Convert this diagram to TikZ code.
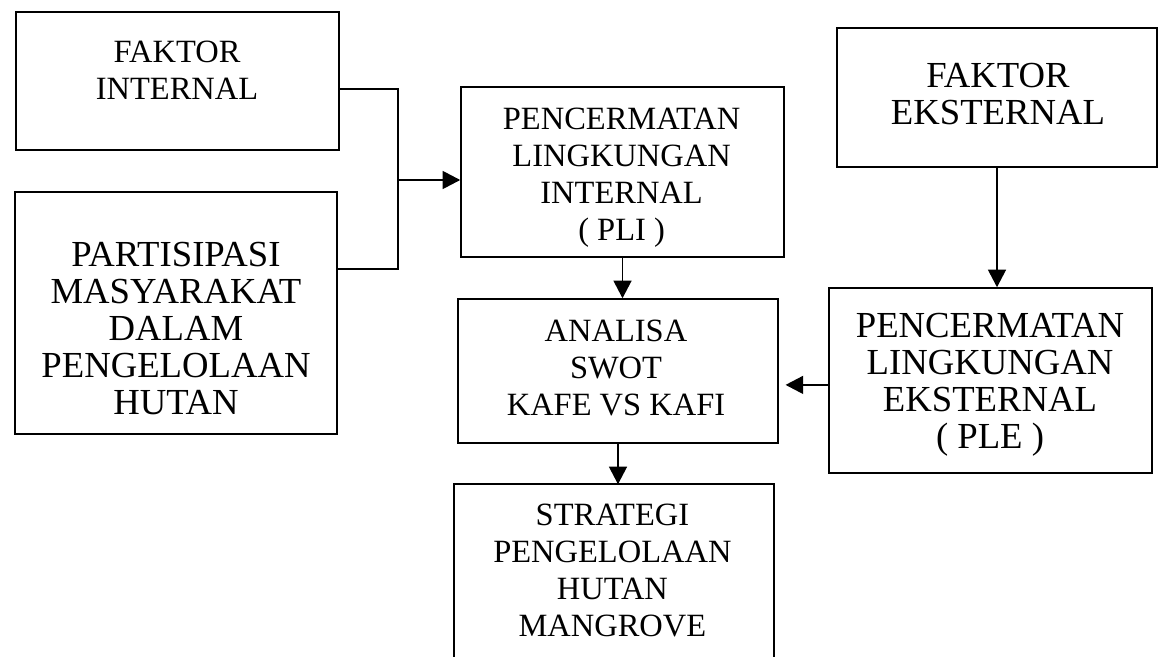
\documentclass[tikz,border=0pt]{standalone}
\usepackage{fontspec}
\setmainfont{Liberation Serif}
\usepackage{tikz}
\usetikzlibrary{calc, arrows.meta, positioning}

\tikzset{
    kotak/.style={draw, line width=1.1pt, rectangle, inner sep=0pt},
    teks/.style={align=center, inner sep=0pt, font=\fontsize{23.1}{26.3}\selectfont},
    teksbesar/.style={align=center, inner sep=0pt, font=\fontsize{26.1}{26.4}\selectfont},
    garis/.style={line width=1.1pt}
}

\begin{document}
\begin{tikzpicture}[>={Triangle[length=4.4mm, width=4.5mm]}]

    \useasboundingbox (0,0) rectangle (28.975,-16.425);

    % =================================================================
    % 1. KOTAK-KOTAK
    % =================================================================
    \node[kotak, minimum width=8.075cm, minimum height=3.45cm] (fi) at (4.4375,-2.025) {};
    \node[kotak, minimum width=8.05cm, minimum height=6.05cm] (pm) at (4.4,-7.825) {};
    \node[kotak, minimum width=8.075cm, minimum height=4.25cm] (pli) at (15.5625,-4.3) {};
    \node[kotak, minimum width=8.0cm, minimum height=3.6cm] (swot) at (15.45,-9.275) {};
    \node[kotak, draw=none, minimum width=7.95cm, minimum height=4.3cm] (strat) at (15.35,-14.275) {};
    \node[kotak, minimum width=8.0cm, minimum height=3.475cm] (fe) at (24.925,-2.4375) {};
    \node[kotak, minimum width=8.075cm, minimum height=4.625cm] (ple) at (24.7625,-9.5125) {};

    % kotak strategi terpotong di bawah
    \draw[garis] (strat.south west) |- (strat.north east) -- (strat.south east);

    % =================================================================
    % 2. TEKS
    % =================================================================
    \node[teks] (fi-t) at (4.425,-1.76) {FAKTOR\\INTERNAL};
    \node[teksbesar] (pm-t) at (4.4,-8.21) {PARTISIPASI\\MASYARAKAT\\DALAM\\PENGELOLAAN\\HUTAN};
    \node[teks] (pli-t) at (15.54,-4.45) {PENCERMATAN\\LINGKUNGAN\\INTERNAL\\( PLI )};
    \node[teks] (swot-t) at (15.4,-9.21) {ANALISA\\SWOT\\KAFE VS KAFI};
    \node[teks] (strat-t) at (15.31,-14.26) {STRATEGI\\PENGELOLAAN\\HUTAN\\MANGROVE};
    \node[teksbesar] (fe-t) at (24.95,-2.35) {FAKTOR\\EKSTERNAL};
    \node[teksbesar] (ple-t) at (24.75,-9.625) {PENCERMATAN\\LINGKUNGAN\\EKSTERNAL\\( PLE )};

    % =================================================================
    % 3. PANAH
    % =================================================================
    \coordinate (gabung) at (9.95,-4.5);
    \draw[garis] ([yshift=-0.2cm]fi.east) -| (gabung);
    \draw[garis] ([yshift=1.1cm]pm.east) -| (gabung);
    \draw[garis, ->] (gabung) -- (gabung -| pli.west);

    \draw[garis, ->] (pli.south) -- (pli.south |- swot.north);
    \draw[garis, ->] (swot.south) -- (swot.south |- strat.north);
    \draw[garis, ->] (fe.south) -- (fe.south |- ple.north);
    \draw[garis, ->, shorten >=0.17cm] ([yshift=-0.11cm]ple.west) -- ([yshift=-0.11cm]ple.west -| swot.east);

\end{tikzpicture}
\end{document}
